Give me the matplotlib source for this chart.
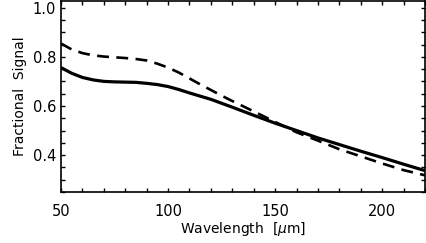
import matplotlib
matplotlib.use("Agg")
import matplotlib.pyplot as plt
from matplotlib.ticker import MultipleLocator

# values
wl = [50, 55, 60, 65, 70, 75, 80, 85, 90, 95, 100, 105, 110, 115, 120, 125, 130, 140, 150, 160, 170, 180, 190, 200, 210, 220]
solid = [0.756, 0.733, 0.716, 0.706, 0.700, 0.698, 0.697, 0.696, 0.692, 0.687, 0.679, 0.667, 0.653, 0.640, 0.627, 0.611, 0.595, 0.562, 0.530, 0.500, 0.470, 0.443, 0.416, 0.390, 0.363, 0.337]
dashed = [0.854, 0.830, 0.815, 0.806, 0.801, 0.798, 0.795, 0.791, 0.785, 0.772, 0.756, 0.736, 0.712, 0.688, 0.665, 0.642, 0.620, 0.578, 0.535, 0.493, 0.459, 0.424, 0.395, 0.366, 0.339, 0.318]

plt.rcParams['font.family'] = ['DejaVu Sans']
fig = plt.figure(figsize=(4.26, 2.43), dpi=100)
ax = fig.add_axes([61 / 426, 1 - 192 / 243, 364 / 426, 191 / 243])

ax.plot(wl, solid, color='black', lw=2.3, solid_capstyle='butt')
ax.plot(wl, dashed, color='black', lw=1.9, dashes=(4.5, 2.8))

ax.set_xlim(50, 220)
ax.set_ylim(0.25, 1.027)
ax.xaxis.set_major_locator(MultipleLocator(50))
ax.xaxis.set_minor_locator(MultipleLocator(10))
ax.yaxis.set_major_locator(MultipleLocator(0.2))
ax.yaxis.set_minor_locator(MultipleLocator(0.05))
ax.tick_params(which='both', direction='in', top=True, right=True, length=3, width=1, labelsize=10.5)
ax.tick_params(axis='x', pad=9)
for s in ax.spines.values():
    s.set_linewidth(1.2)

ax.set_xlabel(r'Wavelength  [$\mu$m]', fontsize=10, labelpad=0)
ax.set_ylabel('Fractional  Signal', fontsize=10, labelpad=4)

fig.savefig('out.png', dpi=100)
